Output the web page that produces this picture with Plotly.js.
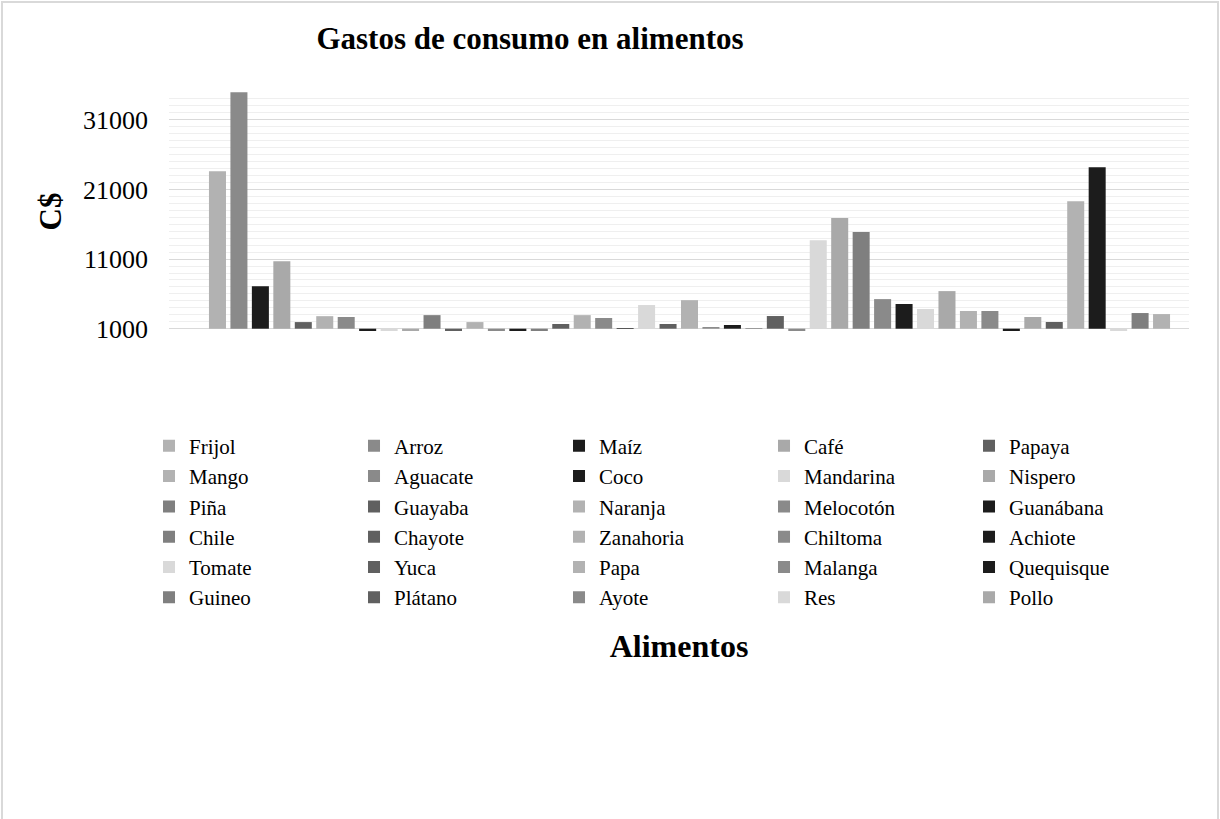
<!DOCTYPE html>
<html>
<head>
<meta charset="utf-8">
<script src="https://cdn.plot.ly/plotly-3.0.1.min.js"></script>
<style>
  html, body { margin: 0; padding: 0; background: #ffffff; overflow: hidden; }
  #frame { position: absolute; left: 1px; top: 1px; width: 1214px; height: 840px; border: 2px solid #d9d9d9; pointer-events: none; z-index: 10; }
  #chart { width: 1220px; height: 819px; }
</style>
</head>
<body>
<div id="frame"></div>
<div id="chart"></div>
<script>
// Legend names (the chart's legend shows the first 30 series)
const categories = ['Frijol','Arroz','Maíz','Café','Papaya','Mango','Aguacate','Coco','Mandarina','Nispero',
  'Piña','Guayaba','Naranja','Melocotón','Guanábana','Chile','Chayote','Zanahoria','Chiltoma','Achiote',
  'Tomate','Yuca','Papa','Malanga','Quequisque','Guineo','Plátano','Ayote','Res','Pollo'];

// Spending per series (C$); values under 1000 are estimates (clipped in the original)
const values = [23600, 34950, 7100, 10700, 1950, 2800, 2680, 400, 400, 400,
  2950, 400, 1950, 400, 400, 400, 1680, 2950, 2540, 1100,
  4400, 1680, 5100, 1240, 1530, 1100, 2820, 400, 13700, 16900,
  14900, 5250, 4550, 3830, 6400, 3540, 3540, 400, 2680, 1960,
  19300, 24200, 400, 3250, 3100];

// Value where the horizontal axis crosses the vertical axis
const axisCross = 1000;
const yTicks = [1000, 11000, 21000, 31000];

// Styles
const L1 = '#b2b2b2', L2 = '#a9a9a9', G1 = '#8a8a8a', G2 = '#7f7f7f', BK = '#1c1c1c', DK = '#606060', VL = '#d9d9d9';
const colors = [L1, G1, BK, L2, DK, L1, G1, BK, VL, L2,
  G2, DK, L1, G1, BK, G2, DK, L1, G1, BK,
  VL, DK, L1, G1, BK, G2, DK, G1, VL, L2,
  G2, G1, BK, VL, L2, L1, G1, BK, L2, DK,
  L1, BK, VL, G2, L1];

const serif = '"Times New Roman", "Liberation Serif", serif';

const traces = values.map((v, i) => ({
  type: 'bar',
  x: ['Alimentos'],
  y: [v - axisCross],
  base: axisCross,
  customdata: [v],
  hovertemplate: '%{customdata}<extra></extra>',
  name: categories[i],
  showlegend: i < categories.length,
  marker: { color: colors[i], line: { width: 0 } }
}));

const layout = {
  width: 1220,
  height: 819,
  paper_bgcolor: '#ffffff',
  plot_bgcolor: '#ffffff',
  font: { family: serif, color: '#000000' },
  margin: { l: 169, r: 31, t: 92, b: 488, pad: 0 },
  barmode: 'group',
  bargap: 0.0534,
  bargroupgap: 0.207,
  title: {
    text: '<b>Gastos de consumo en alimentos</b>',
    font: { family: serif, size: 31, color: '#000000' },
    xref: 'container', x: 0.4344, xanchor: 'center',
    yref: 'container', y: 0.954, yanchor: 'middle'
  },
  xaxis: {
    type: 'category',
    range: [-0.5103, 0.4897],
    showticklabels: false,
    ticks: '',
    showgrid: false,
    zeroline: false,
    showline: false,
    automargin: false,
    title: { text: '<b>Alimentos</b>', font: { family: serif, size: 32, color: '#000000' }, standoff: 303 }
  },
  yaxis: {
    range: [670, 35000],
    tickmode: 'array',
    tickvals: yTicks,
    ticktext: yTicks.map(String),
    tickfont: { family: serif, size: 26, color: '#000000' },
    ticks: '',
    ticklabelstandoff: 20,
    showgrid: true,
    gridcolor: '#d9d9d9',
    gridwidth: 1,
    minor: { tick0: 0, dtick: 1000, showgrid: true, gridcolor: '#efefef', gridwidth: 1 },
    zeroline: false,
    showline: false,
    automargin: false,
    title: { text: '<b>C$</b>', font: { family: serif, size: 31, color: '#000000' }, standoff: 12 }
  },
  legend: {
    orientation: 'h',
    xref: 'paper', yref: 'paper',
    x: -0.0196, xanchor: 'left',
    y: -0.396, yanchor: 'top',
    entrywidth: 160,
    entrywidthmode: 'pixels',
    font: { family: serif, size: 21, color: '#000000' },
    bgcolor: 'rgba(0,0,0,0)',
    borderwidth: 0,
    traceorder: 'normal'
  },
  showlegend: true
};

Plotly.newPlot('chart', traces, layout, { displayModeBar: false, staticPlot: true });
</script>
</body>
</html>
